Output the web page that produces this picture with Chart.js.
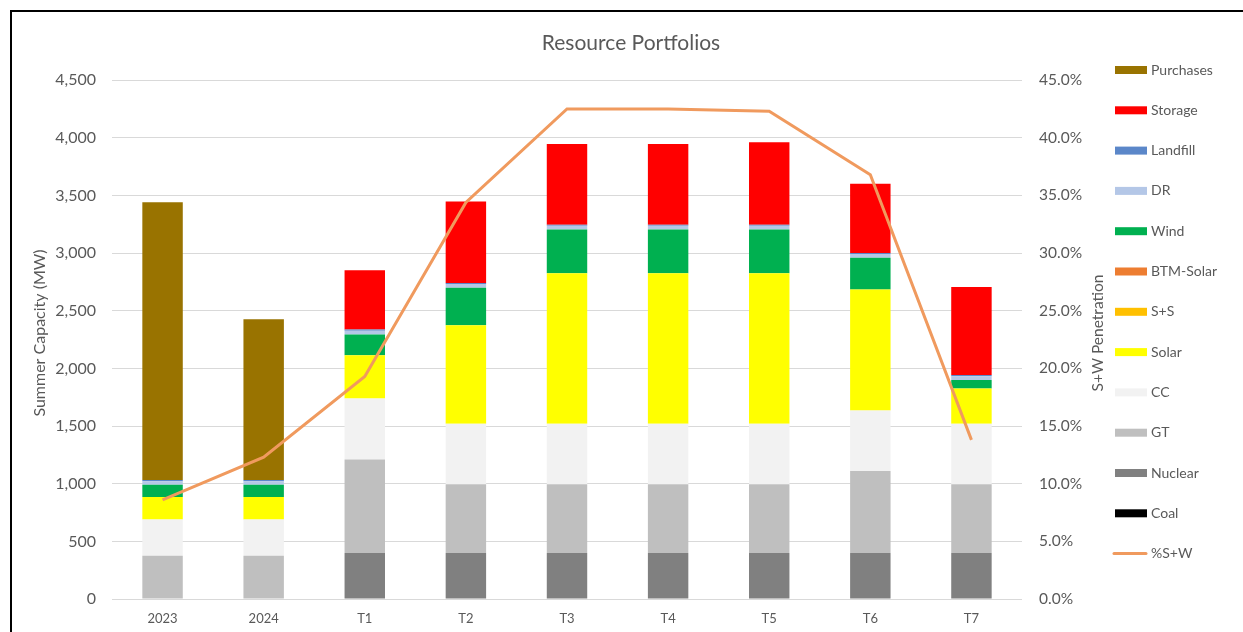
<!DOCTYPE html>
<html><head><meta charset="utf-8">
<script src="https://cdn.jsdelivr.net/npm/chart.js@4.4.1/dist/chart.umd.min.js"></script>
<style>
html,body{margin:0;padding:0;background:#fff;overflow:hidden;width:1243px;height:632px;}
#frame{position:absolute;left:10px;top:10px;width:1240px;height:640px;border:2px solid #000;background:#fff;}
#wrap{position:absolute;left:0;top:0;width:1238px;height:620px;}
</style></head><body>
<div id="frame"><div id="wrap"><canvas id="c"></canvas></div></div>
<script>
const categories = ['2023','2024','T1','T2','T3','T4','T5','T6','T7'];
const coal      = [0,0,0,0,0,0,0,0,0];
const nuclear   = [0,0,400,400,400,400,400,400,400];
const gt        = [375,375,810,595,595,595,595,710,595];
const cc        = [315,315,530,525,525,525,525,525,525];
const solar     = [195,195,375,855,1305,1305,1305,1050,305];
const sPlusS    = [0,0,0,0,0,0,0,0,0];
const btmSolar  = [0,0,0,0,0,0,0,0,0];
const wind      = [105,105,180,325,380,380,380,275,75];
const dr        = [32,32,32,32,32,32,32,32,32];
const landfill  = [10,10,10,10,10,10,10,10,10];
const storage   = [0,0,515,705,700,700,715,600,765];
const purchases = [2410,1395,0,0,0,0,0,0,0];
const pctSW     = [8.6,12.3,19.3,34.4,42.5,42.5,42.3,36.8,13.8];
const leftTicks = [0,500,1000,1500,2000,2500,3000,3500,4000,4500];
const rightTicks = [0,5,10,15,20,25,30,35,40,45];

const chartTitle = 'Resource Portfolios';
const leftAxisTitle = 'Summer Capacity (MW)';
const rightAxisTitle = 'S+W Penetration';

const FONT = 'Lato';
const TXT = '#595959';

function bar(label, data, color){
  return {type:'bar', label, data, backgroundColor:color, borderWidth:0, yAxisID:'y', order:1,
          barPercentage:0.4, categoryPercentage:1.0};
}
const datasets = [
  bar('Coal', coal, '#000000'),
  bar('Nuclear', nuclear, '#808080'),
  bar('GT', gt, '#BFBFBF'),
  bar('CC', cc, '#F2F2F2'),
  bar('Solar', solar, '#FFFF00'),
  bar('S+S', sPlusS, '#FFC000'),
  bar('BTM-Solar', btmSolar, '#ED7D31'),
  bar('Wind', wind, '#00B050'),
  bar('DR', dr, '#B4C7E7'),
  bar('Landfill', landfill, '#5B87C9'),
  bar('Storage', storage, '#FF0000'),
  bar('Purchases', purchases, '#997300'),
  {type:'line', label:'%S+W', data:pctSW, borderColor:'#F09A5E', backgroundColor:'#F09A5E',
   borderWidth:3, pointRadius:0, tension:0, yAxisID:'y1', order:0, fill:false}
];

const overlay = {
  id:'overlay',
  afterDraw(chart){
    const ctx = chart.ctx;
    ctx.save();
    ctx.fillStyle = TXT;
    ctx.font = '16px ' + FONT;
    ctx.textAlign = 'center'; ctx.textBaseline = 'middle';
    ctx.save(); ctx.translate(28, 321); ctx.rotate(-Math.PI/2); ctx.fillText(leftAxisTitle, 0, 0); ctx.restore();
    ctx.font = '15.5px ' + FONT;
    ctx.save(); ctx.translate(1086, 321); ctx.rotate(-Math.PI/2); ctx.fillText(rightAxisTitle, 0, 0); ctx.restore();
    // legend
    const ds = chart.data.datasets;
    const bars = ds.filter(d => d.type === 'bar').slice().reverse();
    const lines = ds.filter(d => d.type === 'line');
    const items = bars.concat(lines);
    ctx.font = '14px ' + FONT;
    ctx.textAlign = 'left';
    items.forEach((d, i) => {
      const y = 58 + i * 40.3;
      if (d.type === 'line') {
        ctx.strokeStyle = d.borderColor; ctx.lineWidth = 3; ctx.lineCap = 'round';
        ctx.beginPath(); ctx.moveTo(1102, y); ctx.lineTo(1134, y); ctx.stroke();
      } else {
        ctx.fillStyle = d.backgroundColor;
        ctx.fillRect(1103, y - 4, 32, 8);
      }
      ctx.fillStyle = TXT;
      ctx.fillText(d.label, 1139, y);
    });
    ctx.restore();
  }
};

new Chart(document.getElementById('c'), {
  data: {labels: categories, datasets},
  options: {
    responsive: true, maintainAspectRatio: false, animation: false,
    layout: {padding: 0},
    plugins: {
      legend: {display: false},
      tooltip: {enabled: false},
      title: {display: true, text: chartTitle, color: TXT, font: {family: FONT, size: 21, weight: 'normal'},
              padding: {top: 19, bottom: 24}}
    },
    scales: {
      x: {
        stacked: true,
        grid: {display: false},
        border: {display: false},
        ticks: {color: TXT, font: {family: FONT, size: 13}, padding: 4, maxRotation: 0},
        afterFit(s){ s.height = 33; }
      },
      y: {
        stacked: true, position: 'left', min: 0, max: 4500,
        afterBuildTicks(s){ s.ticks = leftTicks.map(v => ({value: v})); },
        grid: {color: '#D9D9D9', lineWidth: 1, drawTicks: false},
        border: {display: false},
        ticks: {color: TXT, font: {family: FONT, size: 16}, padding: 16,
                callback: v => v.toLocaleString('en-US')},
        afterFit(s){ s.width = 100; }
      },
      y1: {
        stacked: false, position: 'right', min: 0, max: 45,
        afterBuildTicks(s){ s.ticks = rightTicks.map(v => ({value: v})); },
        grid: {display: false, drawTicks: false},
        border: {display: false},
        ticks: {color: TXT, font: {family: FONT, size: 15.5}, padding: 17,
                callback: v => v.toFixed(1) + '%'},
        afterFit(s){ s.width = 228; }
      }
    }
  },
  plugins: [overlay]
});
</script>
</body></html>
